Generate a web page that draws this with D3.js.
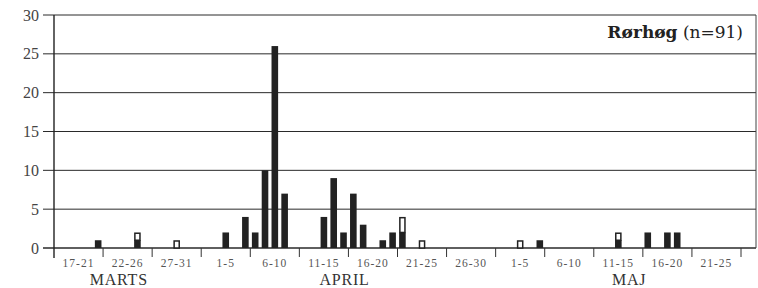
<!DOCTYPE html>
<html>
<head>
<meta charset="utf-8">
<script src="https://cdn.jsdelivr.net/npm/d3@7"></script>
<style>
  body { margin: 0; background: #fff; }
</style>
</head>
<body>
<svg id="plot" width="758" height="288" font-family="Liberation Serif, DejaVu Serif, serif"></svg>
<script>
// days counted from 17 March (0 = 17 mar, 15 = 1 apr, 45 = 1 maj)
const days   = [4, 8, 12, 17, 19, 20, 21, 22, 23, 27, 28, 29, 30, 31, 33, 34, 35, 37, 47, 49, 57, 60, 62, 63];
const filled = [1, 1, 0,  2,  4,  2,  10, 26, 7,  4,  9,  2,  7,  3,  1,  2,  2,  0,  0,  1,  1,  2,  2,  2];
const open   = [0, 1, 1,  0,  0,  0,  0,  0,  0,  0,  0,  0,  0,  0,  0,  0,  2,  1,  1,  0,  1,  0,  0,  0];

const pentads = ["17-21", "22-26", "27-31", "1-5", "6-10", "11-15", "16-20", "21-25", "26-30",
                 "1-5", "6-10", "11-15", "16-20", "21-25"];
const months = ["MARTS", "APRIL", "MAJ"];
const yTicks = [0, 5, 10, 15, 20, 25, 30];

const svg = d3.select("#plot");

const plotL = 54, plotR = 756, plotT = 15, plotB = 248;
const x = d3.scaleLinear().domain([0, 70]).range([plotL, 741]);
const y = d3.scaleLinear().domain([0, 30]).range([plotB, plotT]);
const barW = 6.6;

// grid lines
svg.selectAll("line.grid")
    .data(yTicks)
    .enter().append("line")
        .attr("x1", plotL - 11)
        .attr("x2", plotR)
        .attr("y1", d => y(d))
        .attr("y2", d => y(d))
        .attr("stroke", "#2a2a2a")
        .attr("stroke-width", d => d == 0 ? 1.4 : 1);

// y labels
svg.selectAll("text.ylab")
    .data(yTicks)
    .enter().append("text")
        .attr("x", 39)
        .attr("y", d => y(d))
        .attr("dy", "0.35em")
        .attr("text-anchor", "end")
        .attr("font-size", "16px")
        .attr("fill", "#444")
        .text(d => d);

// left axis and right border
svg.append("line")
    .attr("x1", plotL).attr("x2", plotL)
    .attr("y1", plotT).attr("y2", plotB + 10)
    .attr("stroke", "#222").attr("stroke-width", 1.4);
svg.append("line")
    .attr("x1", plotR).attr("x2", plotR)
    .attr("y1", plotT).attr("y2", plotB)
    .attr("stroke", "#444").attr("stroke-width", 1);

// pentad ticks
svg.selectAll("line.tick")
    .data(d3.range(1, pentads.length + 1))
    .enter().append("line")
        .attr("x1", d => x(d * 5))
        .attr("x2", d => x(d * 5))
        .attr("y1", plotB)
        .attr("y2", plotB + 9)
        .attr("stroke", "#333")
        .attr("stroke-width", 1);

// pentad labels
svg.selectAll("text.pent")
    .data(pentads)
    .enter().append("text")
        .attr("x", (d, i) => x(i * 5 + 2.5))
        .attr("y", 267)
        .attr("text-anchor", "middle")
        .attr("font-size", "11.5px")
        .attr("letter-spacing", "1px")
        .attr("fill", "#555")
        .text(d => d);

// month labels
const monthPos = [6.6, 29.6, 58.6];
svg.selectAll("text.month")
    .data(months)
    .enter().append("text")
        .attr("x", (d, i) => x(monthPos[i]))
        .attr("y", 285)
        .attr("text-anchor", "middle")
        .attr("font-size", "16px")
        .attr("letter-spacing", "0.8px")
        .attr("fill", "#333")
        .text(d => d);

// filled bars
svg.selectAll("rect.filled")
    .data(days)
    .enter().append("rect")
        .attr("x", (d, i) => x(d + 0.5) - barW / 2)
        .attr("y", (d, i) => y(filled[i]))
        .attr("width", barW)
        .attr("height", (d, i) => y(0) - y(filled[i]))
        .attr("fill", "#222");

// open bars, stacked on top
svg.selectAll("rect.open")
    .data(days.filter((d, i) => open[i] > 0))
    .enter().append("rect")
        .attr("x", d => x(d + 0.5) - barW / 2 + 0.75)
        .attr("y", d => { const i = days.indexOf(d); return y(filled[i] + open[i]) + 0.75; })
        .attr("width", barW - 1.5)
        .attr("height", d => { const i = days.indexOf(d); return y(filled[i]) - y(filled[i] + open[i]) - 0.75; })
        .attr("fill", "#fff")
        .attr("stroke", "#222")
        .attr("stroke-width", 1.5);

// title
const title = svg.append("text")
    .attr("x", 743)
    .attr("y", 38)
    .attr("text-anchor", "end")
    .attr("font-family", "DejaVu Serif")
    .attr("font-size", "17px")
    .attr("fill", "#222");
title.append("tspan").attr("font-weight", "bold").text("Rørhøg");
title.append("tspan").text(" (n=91)");
</script>
</body>
</html>
